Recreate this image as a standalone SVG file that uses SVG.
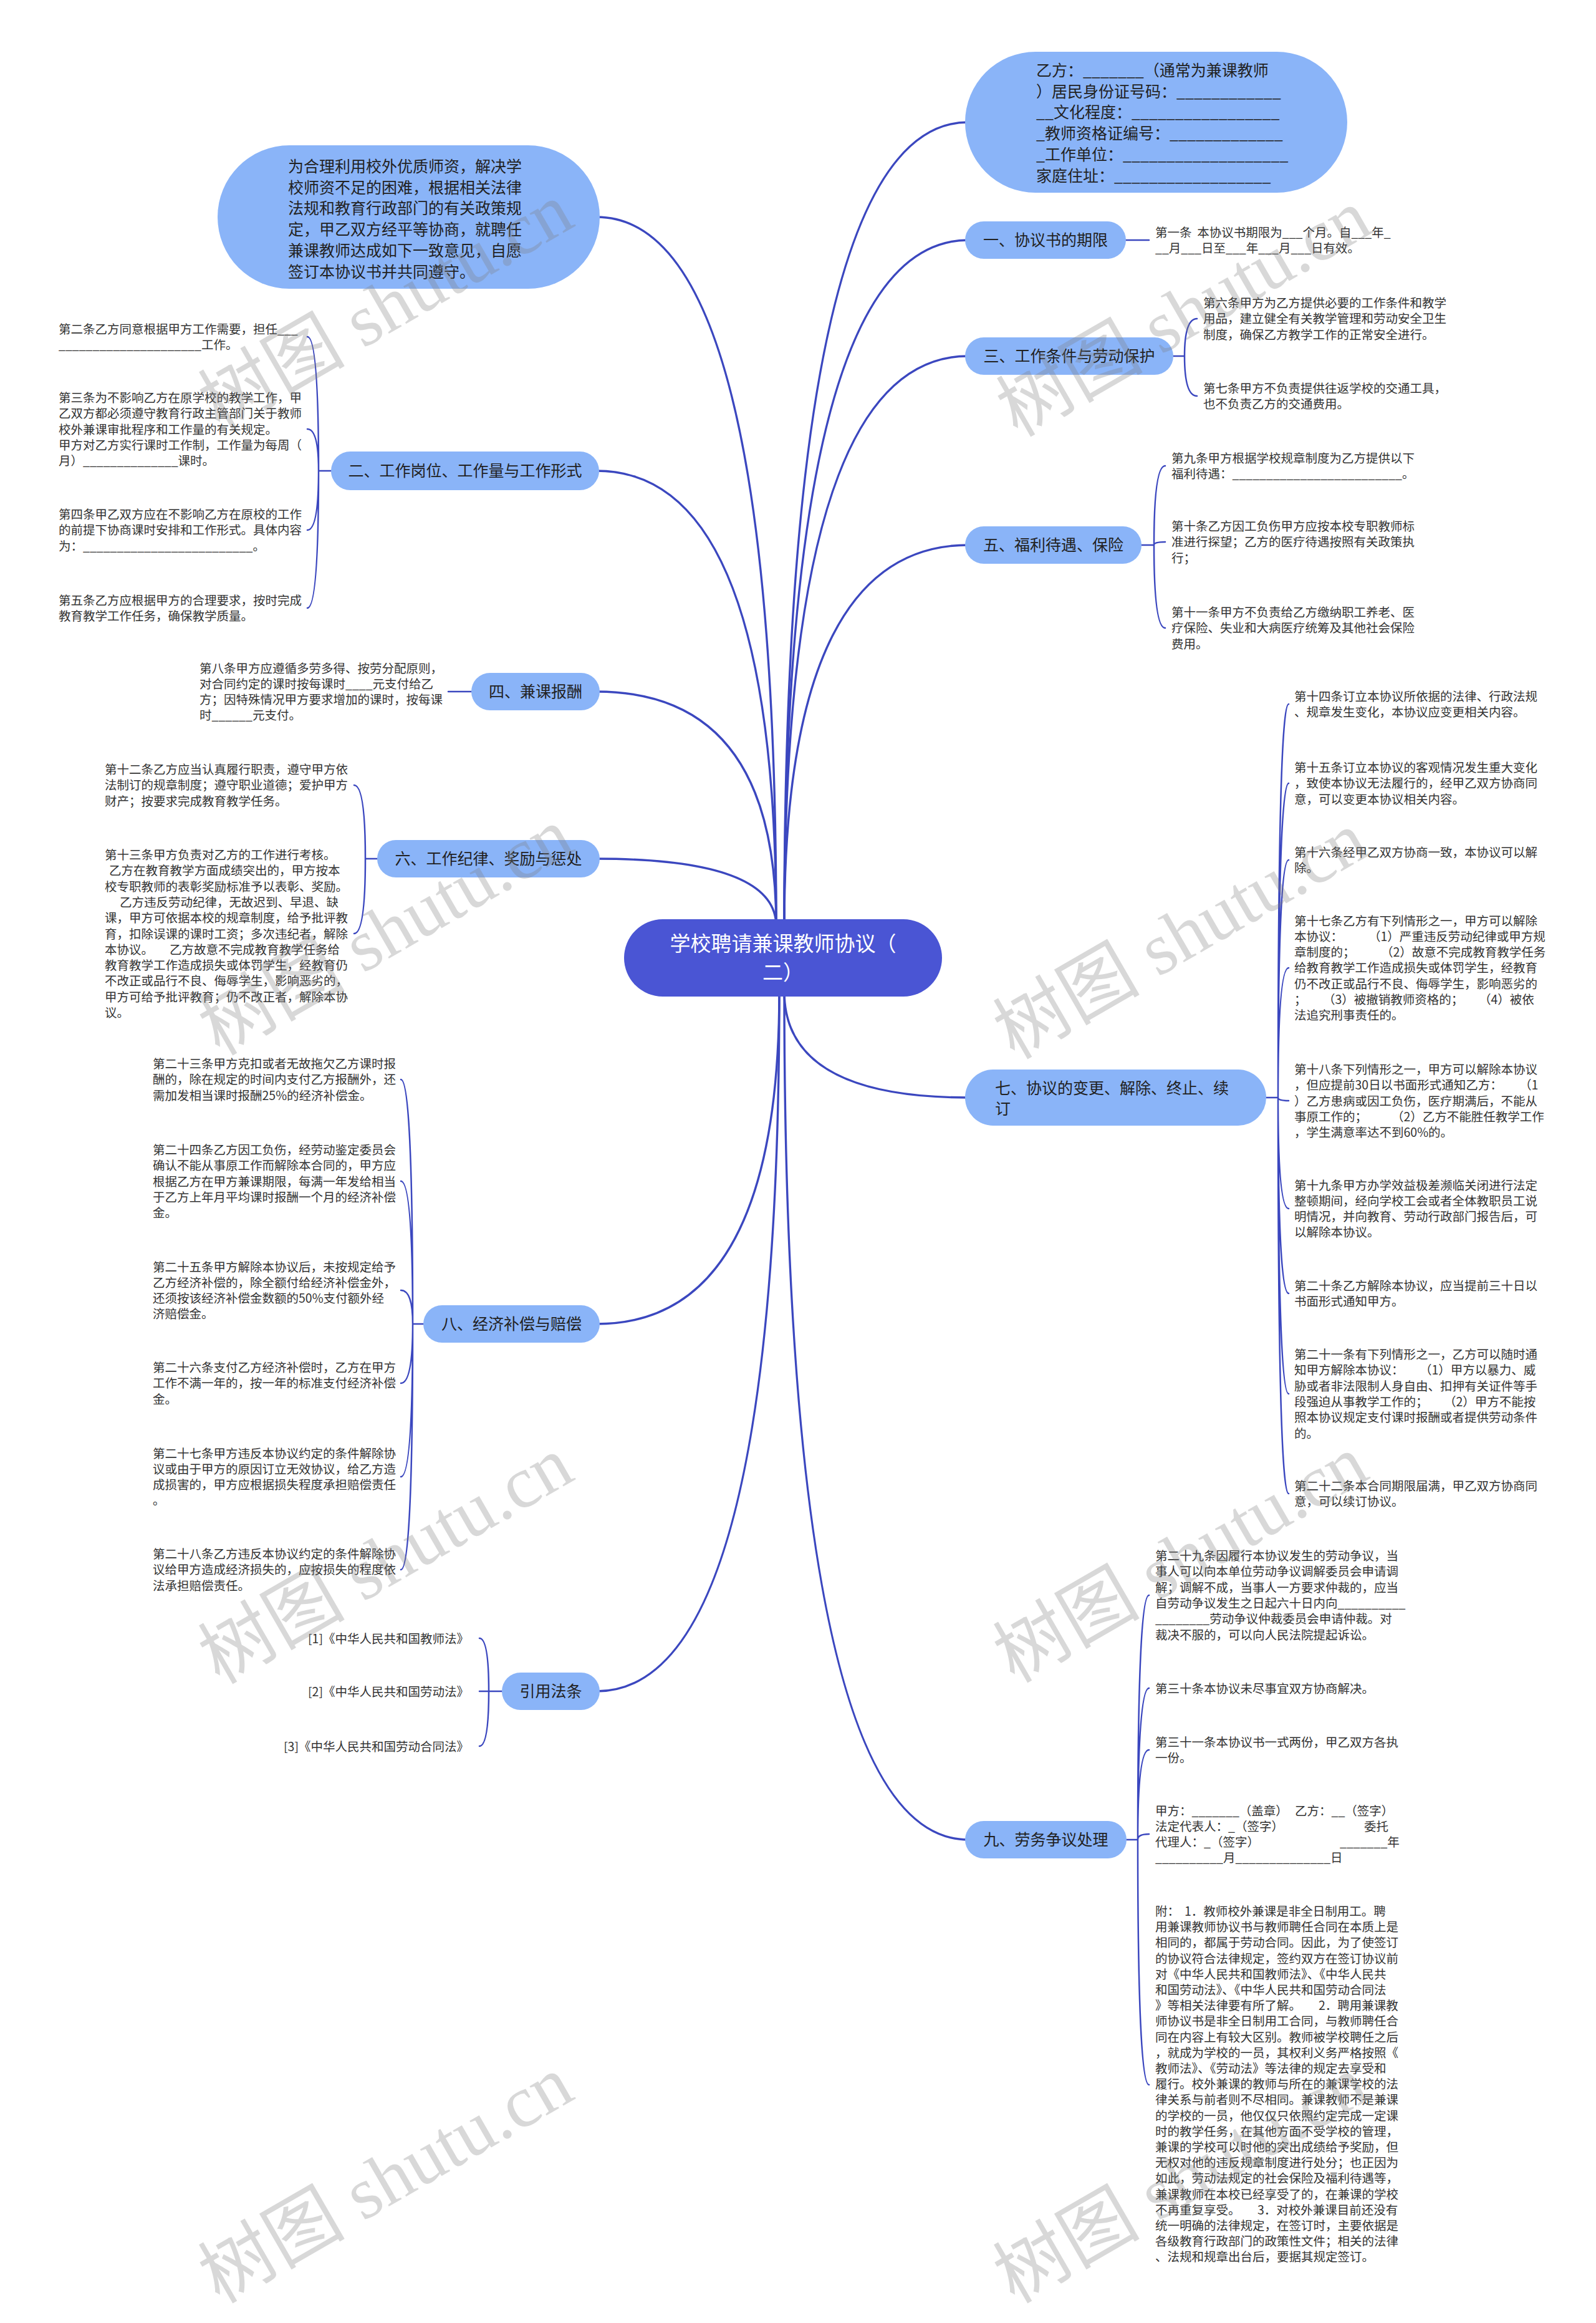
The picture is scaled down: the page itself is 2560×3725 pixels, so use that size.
<svg xmlns="http://www.w3.org/2000/svg" width="2560" height="3725" viewBox="0 0 2560 3725">
<defs>
<style>
.n{fill:#8ab4f8}
.c{fill:#4a55d4}
text{font-family:"Noto Sans CJK SC","Noto Sans",sans-serif}
.t{font-size:19.5px;fill:#333}
.nt{font-size:25px;fill:#222}
.ct{font-size:33px;fill:#fff}
.e{fill:none;stroke:#3b47bf;stroke-width:3.4;stroke-linecap:round}
.s{fill:none;stroke:#3b47bf;stroke-width:2.5;stroke-linecap:round}
.wm{font-size:118px;fill:#7f7f7f;fill-opacity:0.3}
</style>
</defs>
<rect width="2560" height="3725" fill="#fff"/>
<g id="connectors">
<path class="e" d="M1245 1485 Q1245 348 957 348"/>
<path class="e" d="M1245 1485 Q1245 755 957 755"/>
<path class="e" d="M1245 1485 Q1245 1109 957 1109"/>
<path class="e" d="M1245 1485 Q1245 1377 957 1377"/>
<path class="e" d="M1258 1485 Q1258 196 1553 196"/>
<path class="e" d="M1258 1485 Q1258 385 1553 385"/>
<path class="e" d="M1258 1485 Q1258 571 1553 571"/>
<path class="e" d="M1258 1485 Q1258 874 1553 874"/>
<path class="e" d="M1258 1590 Q1258 1760 1553 1760"/>
<path class="e" d="M1258 1590 Q1258 2950 1553 2950"/>
<path class="e" d="M1250 1590 Q1250 2123 957 2123"/>
<path class="e" d="M1250 1590 Q1250 2712 957 2712"/>
<path class="s" d="M1801 385 H1843"/>
<path class="s" d="M1877 571 H1900 M1900 571 Q1900 511 1920 511 M1900 571 Q1900 635 1920 635"/>
<path class="s" d="M1826 874 H1851 M1851 874 Q1851 747 1869 747 M1851 874 Q1851 869 1869 869 M1851 874 Q1851 1007 1869 1007"/>
<path class="s" d="M2026 1760 H2050 M2050 1760 Q2050 1129 2067 1129 M2050 1760 Q2050 1256 2067 1256 M2050 1760 Q2050 1379 2067 1379 M2050 1760 Q2050 1552 2067 1552 M2050 1760 Q2050 1765 2067 1765 M2050 1760 Q2050 1938 2067 1938 M2050 1760 Q2050 2074 2067 2074 M2050 1760 Q2050 2235 2067 2235 M2050 1760 Q2050 2395 2067 2395"/>
<path class="s" d="M1802 2950 H1825 M1825 2950 Q1825 2558 1843 2558 M1825 2950 Q1825 2707 1843 2707 M1825 2950 Q1825 2806 1843 2806 M1825 2950 Q1825 2941 1843 2941 M1825 2950 Q1825 3343 1843 3343"/>
<path class="s" d="M536 755 H511 M511 755 Q511 540 493 540 M511 755 Q511 688 493 688 M511 755 Q511 850 493 850 M511 755 Q511 975 493 975"/>
<path class="s" d="M761 1109 H719"/>
<path class="s" d="M610 1377 H586 M586 1377 Q586 1259 568 1259 M586 1377 Q586 1497 568 1497"/>
<path class="s" d="M684 2123 H662 M662 2123 Q662 1731 643 1731 M662 2123 Q662 1894 643 1894 M662 2123 Q662 2069 643 2069 M662 2123 Q662 2218 643 2218 M662 2123 Q662 2368 643 2368 M662 2123 Q662 2517 643 2517"/>
<path class="s" d="M810 2712 H784 M784 2712 Q784 2627 769 2627 M784 2712 Q784 2712 769 2712 M784 2712 Q784 2800 769 2800"/>
</g>
<g id="root">
<rect x="1001" y="1474" width="510" height="124" rx="62" class="c"/>
<text class="ct" x="1256" y="1525" text-anchor="middle">学校聘请兼课教师协议（</text>
<text class="ct" x="1256" y="1571" text-anchor="middle">二）</text>
</g>
<g id="intro">
<rect x="349" y="233" width="613" height="230" rx="115" class="n"/>
<text class="nt" y="276"><tspan x="462">为合理利用校外优质师资，解决学</tspan><tspan x="462" dy="33.7">校师资不足的困难，根据相关法律</tspan><tspan x="462" dy="33.7">法规和教育行政部门的有关政策规</tspan><tspan x="462" dy="33.7">定，甲乙双方经平等协商，就聘任</tspan><tspan x="462" dy="33.7">兼课教师达成如下一致意见，自愿</tspan><tspan x="462" dy="33.7">签订本协议书并共同遵守。</tspan></text>
</g>
<g id="partyB">
<rect x="1548" y="83" width="613" height="226" rx="113" class="n"/>
<text class="nt" y="122"><tspan x="1662">乙方：_______（通常为兼课教师</tspan><tspan x="1662" dy="33.7">）居民身份证号码：____________</tspan><tspan x="1662" dy="33.7">__文化程度：_________________</tspan><tspan x="1662" dy="33.7">_教师资格证编号：_____________</tspan><tspan x="1662" dy="33.7">_工作单位：___________________</tspan><tspan x="1662" dy="33.7">家庭住址：__________________</tspan></text>
</g>
<g id="b1">
<rect x="1548" y="355" width="258" height="60" rx="30" class="n"/>
<text class="nt" x="1677" y="394" text-anchor="middle">一、协议书的期限</text>
</g>
<g id="b1-c1"><text class="t" y="380"><tspan x="1853">第一条&#160;&#160;本协议书期限为___个月。自___年_</tspan><tspan x="1853" dy="25.3">__月___日至___年___月___日有效。</tspan></text></g>
<g id="b3">
<rect x="1548" y="541" width="334" height="60" rx="30" class="n"/>
<text class="nt" x="1715" y="580" text-anchor="middle">三、工作条件与劳动保护</text>
</g>
<g id="b3-c1"><text class="t" y="493"><tspan x="1930">第六条甲方为乙方提供必要的工作条件和教学</tspan><tspan x="1930" dy="25.3">用品，建立健全有关教学管理和劳动安全卫生</tspan><tspan x="1930" dy="25.3">制度，确保乙方教学工作的正常安全进行。</tspan></text></g>
<g id="b3-c2"><text class="t" y="630"><tspan x="1930">第七条甲方不负责提供往返学校的交通工具，</tspan><tspan x="1930" dy="25.3">也不负责乙方的交通费用。</tspan></text></g>
<g id="b5">
<rect x="1548" y="844" width="283" height="60" rx="30" class="n"/>
<text class="nt" x="1689.5" y="883" text-anchor="middle">五、福利待遇、保险</text>
</g>
<g id="b5-c1"><text class="t" y="742"><tspan x="1879">第九条甲方根据学校规章制度为乙方提供以下</tspan><tspan x="1879" dy="25.3">福利待遇：_________________________。</tspan></text></g>
<g id="b5-c2"><text class="t" y="851"><tspan x="1879">第十条乙方因工负伤甲方应按本校专职教师标</tspan><tspan x="1879" dy="25.3">准进行探望；乙方的医疗待遇按照有关政策执</tspan><tspan x="1879" dy="25.3">行；</tspan></text></g>
<g id="b5-c3"><text class="t" y="989"><tspan x="1879">第十一条甲方不负责给乙方缴纳职工养老、医</tspan><tspan x="1879" dy="25.3">疗保险、失业和大病医疗统筹及其他社会保险</tspan><tspan x="1879" dy="25.3">费用。</tspan></text></g>
<g id="b7">
<rect x="1548" y="1715" width="483" height="90" rx="45" class="n"/>
<text class="nt" y="1754"><tspan x="1596">七、协议的变更、解除、终止、续</tspan><tspan x="1596" dy="33">订</tspan></text>
</g>
<g id="b7-c1"><text class="t" y="1124"><tspan x="2076">第十四条订立本协议所依据的法律、行政法规</tspan><tspan x="2076" dy="25.3">、规章发生变化，本协议应变更相关内容。</tspan></text></g>
<g id="b7-c2"><text class="t" y="1238"><tspan x="2076">第十五条订立本协议的客观情况发生重大变化</tspan><tspan x="2076" dy="25.3">，致使本协议无法履行的，经甲乙双方协商同</tspan><tspan x="2076" dy="25.3">意，可以变更本协议相关内容。</tspan></text></g>
<g id="b7-c3"><text class="t" y="1374"><tspan x="2076">第十六条经甲乙双方协商一致，本协议可以解</tspan><tspan x="2076" dy="25.3">除。</tspan></text></g>
<g id="b7-c4"><text class="t" y="1483.5"><tspan x="2076">第十七条乙方有下列情形之一，甲方可以解除</tspan><tspan x="2076" dy="25.3">本协议：</tspan><tspan x="2195">（1）严重违反劳动纪律或甲方规</tspan><tspan x="2076" dy="25.3">章制度的；</tspan><tspan x="2215">（2）故意不完成教育教学任务</tspan><tspan x="2076" dy="25.3">给教育教学工作造成损失或体罚学生，经教育</tspan><tspan x="2076" dy="25.3">仍不改正或品行不良、侮辱学生，影响恶劣的</tspan><tspan x="2076" dy="25.3">；</tspan><tspan x="2122">（3）被撤销教师资格的；</tspan><tspan x="2372">（4）被依</tspan><tspan x="2076" dy="25.3">法追究刑事责任的。</tspan></text></g>
<g id="b7-c5"><text class="t" y="1722"><tspan x="2076">第十八条下列情形之一，甲方可以解除本协议</tspan><tspan x="2076" dy="25.3">，但应提前30日以书面形式通知乙方：</tspan><tspan x="2437">（1</tspan><tspan x="2076" dy="25.3">）乙方患病或因工负伤，医疗期满后，不能从</tspan><tspan x="2076" dy="25.3">事原工作的；</tspan><tspan x="2232">（2）乙方不能胜任教学工作</tspan><tspan x="2076" dy="25.3">，学生满意率达不到60%的。</tspan></text></g>
<g id="b7-c6"><text class="t" y="1907.5"><tspan x="2076">第十九条甲方办学效益极差濒临关闭进行法定</tspan><tspan x="2076" dy="25.3">整顿期间，经向学校工会或者全体教职员工说</tspan><tspan x="2076" dy="25.3">明情况，并向教育、劳动行政部门报告后，可</tspan><tspan x="2076" dy="25.3">以解除本协议。</tspan></text></g>
<g id="b7-c7"><text class="t" y="2069"><tspan x="2076">第二十条乙方解除本协议，应当提前三十日以</tspan><tspan x="2076" dy="25.3">书面形式通知甲方。</tspan></text></g>
<g id="b7-c8"><text class="t" y="2179"><tspan x="2076">第二十一条有下列情形之一，乙方可以随时通</tspan><tspan x="2076" dy="25.3">知甲方解除本协议：</tspan><tspan x="2277">（1）甲方以暴力、威</tspan><tspan x="2076" dy="25.3">胁或者非法限制人身自由、扣押有关证件等手</tspan><tspan x="2076" dy="25.3">段强迫从事教学工作的；</tspan><tspan x="2316">（2）甲方不能按</tspan><tspan x="2076" dy="25.3">照本协议规定支付课时报酬或者提供劳动条件</tspan><tspan x="2076" dy="25.3">的。</tspan></text></g>
<g id="b7-c9"><text class="t" y="2390"><tspan x="2076">第二十二条本合同期限届满，甲乙双方协商同</tspan><tspan x="2076" dy="25.3">意，可以续订协议。</tspan></text></g>
<g id="b9">
<rect x="1548" y="2920" width="259" height="60" rx="30" class="n"/>
<text class="nt" x="1677.5" y="2959" text-anchor="middle">九、劳务争议处理</text>
</g>
<g id="b9-c1"><text class="t" y="2502"><tspan x="1853">第二十九条因履行本协议发生的劳动争议，当</tspan><tspan x="1853" dy="25.3">事人可以向本单位劳动争议调解委员会申请调</tspan><tspan x="1853" dy="25.3">解；调解不成，当事人一方要求仲裁的，应当</tspan><tspan x="1853" dy="25.3">自劳动争议发生之日起六十日内向__________</tspan><tspan x="1853" dy="25.3">________劳动争议仲裁委员会申请仲裁。对</tspan><tspan x="1853" dy="25.3">裁决不服的，可以向人民法院提起诉讼。</tspan></text></g>
<g id="b9-c2"><text class="t" x="1853" y="2714.5">第三十条本协议未尽事宜双方协商解决。</text></g>
<g id="b9-c3"><text class="t" y="2801"><tspan x="1853">第三十一条本协议书一式两份，甲乙双方各执</tspan><tspan x="1853" dy="25.3">一份。</tspan></text></g>
<g id="b9-c4"><text class="t" y="2910.5"><tspan x="1853">甲方：_______（盖章）</tspan><tspan x="2077">乙方：__（签字）</tspan><tspan x="1853" dy="25.3">法定代表人：_（签字）</tspan><tspan x="2188">委托</tspan><tspan x="1853" dy="25.3">代理人：_（签字）</tspan><tspan x="2149">_______年</tspan><tspan x="1853" dy="25.3">__________月______________日</tspan></text></g>
<g id="b9-c5"><text class="t" y="3072"><tspan x="1853">附：</tspan><tspan x="1900">1．教师校外兼课是非全日制用工。聘</tspan><tspan x="1853" dy="25.2">用兼课教师协议书与教师聘任合同在本质上是</tspan><tspan x="1853" dy="25.2">相同的，都属于劳动合同。因此，为了使签订</tspan><tspan x="1853" dy="25.2">的协议符合法律规定，签约双方在签订协议前</tspan><tspan x="1853" dy="25.2">对《中华人民共和国教师法》、《中华人民共</tspan><tspan x="1853" dy="25.2">和国劳动法》、《中华人民共和国劳动合同法</tspan><tspan x="1853" dy="25.2">》等相关法律要有所了解。</tspan><tspan x="2115">2．聘用兼课教</tspan><tspan x="1853" dy="25.2">师协议书是非全日制用工合同，与教师聘任合</tspan><tspan x="1853" dy="25.2">同在内容上有较大区别。教师被学校聘任之后</tspan><tspan x="1853" dy="25.2">，就成为学校的一员，其权利义务严格按照《</tspan><tspan x="1853" dy="25.2">教师法》、《劳动法》等法律的规定去享受和</tspan><tspan x="1853" dy="25.2">履行。校外兼课的教师与所在的兼课学校的法</tspan><tspan x="1853" dy="25.2">律关系与前者则不尽相同。兼课教师不是兼课</tspan><tspan x="1853" dy="25.2">的学校的一员，他仅仅只依照约定完成一定课</tspan><tspan x="1853" dy="25.2">时的教学任务，在其他方面不受学校的管理，</tspan><tspan x="1853" dy="25.2">兼课的学校可以时他的突出成绩给予奖励，但</tspan><tspan x="1853" dy="25.2">无权对他的违反规章制度进行处分；也正因为</tspan><tspan x="1853" dy="25.2">如此，劳动法规定的社会保险及福利待遇等，</tspan><tspan x="1853" dy="25.2">兼课教师在本校已经享受了的，在兼课的学校</tspan><tspan x="1853" dy="25.2">不再重复享受。</tspan><tspan x="2017">3．对校外兼课目前还没有</tspan><tspan x="1853" dy="25.2">统一明确的法律规定，在签订时，主要依据是</tspan><tspan x="1853" dy="25.2">各级教育行政部门的政策性文件；相关的法律</tspan><tspan x="1853" dy="25.2">、法规和规章出台后，要据其规定签订。</tspan></text></g>
<g id="b2">
<rect x="531" y="724" width="430" height="62" rx="31" class="n"/>
<text class="nt" x="746" y="764" text-anchor="middle">二、工作岗位、工作量与工作形式</text>
</g>
<g id="b2-c1"><text class="t" y="535"><tspan x="94">第二条乙方同意根据甲方工作需要，担任___</tspan><tspan x="94" dy="25.3">_____________________工作。</tspan></text></g>
<g id="b2-c2"><text class="t" y="645"><tspan x="94">第三条为不影响乙方在原学校的教学工作，甲</tspan><tspan x="94" dy="25.3">乙双方都必须遵守教育行政主管部门关于教师</tspan><tspan x="94" dy="25.3">校外兼课审批程序和工作量的有关规定。</tspan><tspan x="94" dy="25.3">甲方对乙方实行课时工作制，工作量为每周（</tspan><tspan x="94" dy="25.3">月）______________课时。</tspan></text></g>
<g id="b2-c3"><text class="t" y="832"><tspan x="94">第四条甲乙双方应在不影响乙方在原校的工作</tspan><tspan x="94" dy="25.3">的前提下协商课时安排和工作形式。具体内容</tspan><tspan x="94" dy="25.3">为：_________________________。</tspan></text></g>
<g id="b2-c4"><text class="t" y="970"><tspan x="94">第五条乙方应根据甲方的合理要求，按时完成</tspan><tspan x="94" dy="25.3">教育教学工作任务，确保教学质量。</tspan></text></g>
<g id="b4">
<rect x="756" y="1079" width="206" height="60" rx="30" class="n"/>
<text class="nt" x="859" y="1118" text-anchor="middle">四、兼课报酬</text>
</g>
<g id="b4-c1"><text class="t" y="1078.5"><tspan x="320">第八条甲方应遵循多劳多得、按劳分配原则，</tspan><tspan x="320" dy="25.3">对合同约定的课时按每课时____元支付给乙</tspan><tspan x="320" dy="25.3">方；因特殊情况甲方要求增加的课时，按每课</tspan><tspan x="320" dy="25.3">时______元支付。</tspan></text></g>
<g id="b6">
<rect x="605" y="1347" width="357" height="60" rx="30" class="n"/>
<text class="nt" x="783.5" y="1386" text-anchor="middle">六、工作纪律、奖励与惩处</text>
</g>
<g id="b6-c1"><text class="t" y="1241"><tspan x="168">第十二条乙方应当认真履行职责，遵守甲方依</tspan><tspan x="168" dy="25.3">法制订的规章制度；遵守职业道德；爱护甲方</tspan><tspan x="168" dy="25.3">财产；按要求完成教育教学任务。</tspan></text></g>
<g id="b6-c2"><text class="t" y="1378"><tspan x="168">第十三条甲方负责对乙方的工作进行考核。</tspan><tspan x="175" dy="25.3">乙方在教育教学方面成绩突出的，甲方按本</tspan><tspan x="168" dy="25.3">校专职教师的表彰奖励标准予以表彰、奖励。</tspan><tspan x="192" dy="25.3">乙方违反劳动纪律，无故迟到、早退、缺</tspan><tspan x="168" dy="25.3">课，甲方可依据本校的规章制度，给予批评教</tspan><tspan x="168" dy="25.3">育，扣除误课的课时工资；多次违纪者，解除</tspan><tspan x="168" dy="25.3">本协议。</tspan><tspan x="272">乙方故意不完成教育教学任务给</tspan><tspan x="168" dy="25.3">教育教学工作造成损失或体罚学生，经教育仍</tspan><tspan x="168" dy="25.3">不改正或品行不良、侮辱学生，影响恶劣的，</tspan><tspan x="168" dy="25.3">甲方可给予批评教育；仍不改正者，解除本协</tspan><tspan x="168" dy="25.3">议。</tspan></text></g>
<g id="b8">
<rect x="679" y="2093" width="283" height="60" rx="30" class="n"/>
<text class="nt" x="820.5" y="2132" text-anchor="middle">八、经济补偿与赔偿</text>
</g>
<g id="b8-c1"><text class="t" y="1713"><tspan x="245">第二十三条甲方克扣或者无故拖欠乙方课时报</tspan><tspan x="245" dy="25.3">酬的，除在规定的时间内支付乙方报酬外，还</tspan><tspan x="245" dy="25.3">需加发相当课时报酬25%的经济补偿金。</tspan></text></g>
<g id="b8-c2"><text class="t" y="1851"><tspan x="245">第二十四条乙方因工负伤，经劳动鉴定委员会</tspan><tspan x="245" dy="25.3">确认不能从事原工作而解除本合同的，甲方应</tspan><tspan x="245" dy="25.3">根据乙方在甲方兼课期限，每满一年发给相当</tspan><tspan x="245" dy="25.3">于乙方上年月平均课时报酬一个月的经济补偿</tspan><tspan x="245" dy="25.3">金。</tspan></text></g>
<g id="b8-c3"><text class="t" y="2038.5"><tspan x="245">第二十五条甲方解除本协议后，未按规定给予</tspan><tspan x="245" dy="25.3">乙方经济补偿的，除全额付给经济补偿金外，</tspan><tspan x="245" dy="25.3">还须按该经济补偿金数额的50%支付额外经</tspan><tspan x="245" dy="25.3">济赔偿金。</tspan></text></g>
<g id="b8-c4"><text class="t" y="2200"><tspan x="245">第二十六条支付乙方经济补偿时，乙方在甲方</tspan><tspan x="245" dy="25.3">工作不满一年的，按一年的标准支付经济补偿</tspan><tspan x="245" dy="25.3">金。</tspan></text></g>
<g id="b8-c5"><text class="t" y="2337.5"><tspan x="245">第二十七条甲方违反本协议约定的条件解除协</tspan><tspan x="245" dy="25.3">议或由于甲方的原因订立无效协议，给乙方造</tspan><tspan x="245" dy="25.3">成损害的，甲方应根据损失程度承担赔偿责任</tspan><tspan x="245" dy="25.3">。</tspan></text></g>
<g id="b8-c6"><text class="t" y="2499"><tspan x="245">第二十八条乙方违反本协议约定的条件解除协</tspan><tspan x="245" dy="25.3">议给甲方造成经济损失的，应按损失的程度依</tspan><tspan x="245" dy="25.3">法承担赔偿责任。</tspan></text></g>
<g id="law">
<rect x="805" y="2682" width="157" height="60" rx="30" class="n"/>
<text class="nt" x="883.5" y="2721" text-anchor="middle">引用法条</text>
</g>
<g id="law-c1"><text class="t" x="752" y="2634.5" text-anchor="end">[1]《中华人民共和国教师法》</text></g>
<g id="law-c2"><text class="t" x="752" y="2719.5" text-anchor="end">[2]《中华人民共和国劳动法》</text></g>
<g id="law-c3"><text class="t" x="752" y="2807.5" text-anchor="end">[3]《中华人民共和国劳动合同法》</text></g>
<g id="watermarks">
<text class="wm" transform="translate(352 692) rotate(-30)">树图<tspan font-family="Liberation Serif"> shutu.cn</tspan></text>
<text class="wm" transform="translate(1632 702) rotate(-30)">树图<tspan font-family="Liberation Serif"> shutu.cn</tspan></text>
<text class="wm" transform="translate(352 1694) rotate(-30)">树图<tspan font-family="Liberation Serif"> shutu.cn</tspan></text>
<text class="wm" transform="translate(1627 1700) rotate(-30)">树图<tspan font-family="Liberation Serif"> shutu.cn</tspan></text>
<text class="wm" transform="translate(352 2702) rotate(-30)">树图<tspan font-family="Liberation Serif"> shutu.cn</tspan></text>
<text class="wm" transform="translate(1627 2700) rotate(-30)">树图<tspan font-family="Liberation Serif"> shutu.cn</tspan></text>
<text class="wm" transform="translate(352 3695) rotate(-30)">树图<tspan font-family="Liberation Serif"> shutu.cn</tspan></text>
<text class="wm" transform="translate(1627 3695) rotate(-30)">树图<tspan font-family="Liberation Serif"> shutu.cn</tspan></text>
</g>
</svg>
